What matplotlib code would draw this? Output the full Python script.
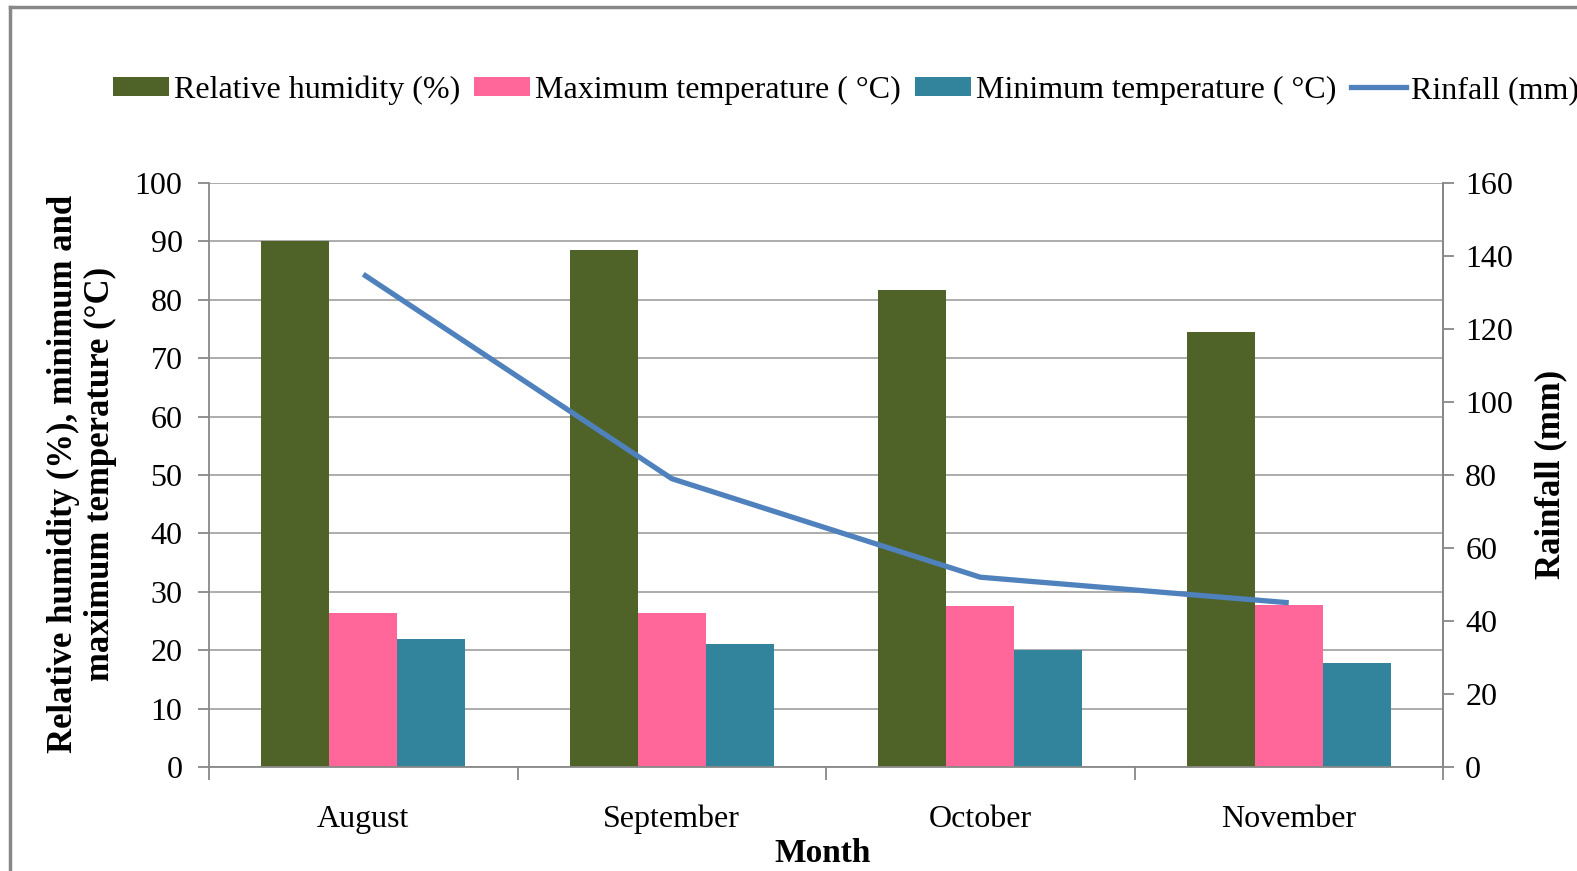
import numpy as np
import matplotlib.pyplot as plt
from matplotlib.lines import Line2D

plt.rcParams['font.family'] = ['Liberation Serif', 'DejaVu Serif']

# 数据
months = ['August', 'September', 'October', 'November']
humidity = [90.0, 88.5, 81.7, 74.5]
max_temp = [26.4, 26.4, 27.5, 27.7]
min_temp = [22.0, 21.1, 20.0, 17.8]
rainfall = [135, 79, 52, 45]

W, H = 1577, 871
fig = plt.figure(figsize=(W / 100, H / 100), dpi=100)

# 坐标区位置（像素换算）
left, right, top, bottom = 209, 1443, 183, 767
ax = fig.add_axes([left / W, 1 - bottom / H, (right - left) / W, (bottom - top) / H])

x = np.arange(len(months)) + 0.5
bw = 0.22
c_hum, c_max, c_min, c_rain = '#4F6228', '#FF6699', '#31849B', '#4F81BD'
fs = 23

b1 = ax.bar(x - bw, humidity, bw, color=c_hum, zorder=2)
b2 = ax.bar(x, max_temp, bw, color=c_max, zorder=2)
b3 = ax.bar(x + bw, min_temp, bw, color=c_min, zorder=2)

ax.set_xlim(0, len(months))
ax.set_ylim(0, 100)
ax.set_yticks(np.arange(0, 101, 10))
ax.grid(axis='y', color='#A6A6A6', lw=1.3, zorder=0)
ax.set_axisbelow(True)

ax.set_xticks(np.arange(0, len(months) + 1))
ax.set_xticklabels([])
ax.set_xticks(x, minor=True)
ax.set_xticklabels(months, minor=True)
ax.tick_params(axis='x', which='major', length=9, color='#888888', width=1.3)
ax.tick_params(axis='x', which='minor', length=0, pad=27, labelsize=fs)
ax.tick_params(axis='y', length=8, color='#888888', width=1.3, labelsize=fs, pad=11)

for s in ['left', 'bottom', 'right']:
    ax.spines[s].set_color('#888888')
    ax.spines[s].set_linewidth(1.3)
ax.spines['top'].set_visible(False)

ax2 = ax.twinx()
ax2.plot(x, rainfall, color=c_rain, lw=3.8, zorder=3, solid_capstyle='butt')
ax2.set_ylim(0, 160)
ax2.set_yticks(np.arange(0, 161, 20))
ax2.tick_params(axis='y', length=8, color='#888888', width=1.3, labelsize=fs, pad=8)
for s in ['left', 'bottom', 'top']:
    ax2.spines[s].set_visible(False)
ax2.spines['right'].set_color('#888888')
ax2.spines['right'].set_linewidth(1.3)

# 轴标题
fig.text(82 / W, 1 - 474 / H, 'Relative humidity (%), minimum and\nmaximum temperature (°C)',
         rotation=90, ha='center', va='center', fontsize=25, fontweight='bold',
         multialignment='center', linespacing=1.12)
fig.text(1551 / W, 1 - 474 / H, 'Rainfall (mm)', rotation=90, ha='center', va='center',
         fontsize=25, fontweight='bold')
fig.text(823 / W, 1 - 853 / H, 'Month', ha='center', va='center', fontsize=24, fontweight='bold')

# 图例
handles = [b1, b2, b3, Line2D([0], [0], color=c_rain, lw=3.8)]
labels = ['Relative humidity (%)', 'Maximum temperature ( °C)',
          'Minimum temperature ( °C)', 'Rinfall (mm)']
fig.legend(handles, labels, loc='center left', bbox_to_anchor=(113 / W, 1 - 90 / H),
           ncol=4, frameon=False, fontsize=fs, handlelength=1.75, handleheight=0.55,
           handletextpad=0.15, columnspacing=0.45, borderaxespad=0, borderpad=0)

# 外框
fig.add_artist(Line2D([10 / W, 1], [1 - 7 / H, 1 - 7 / H], color='#888888', lw=2.5))
fig.add_artist(Line2D([10 / W, 10 / W], [0, 1 - 7 / H], color='#888888', lw=2.5))

fig.savefig('out.png', dpi=100)
